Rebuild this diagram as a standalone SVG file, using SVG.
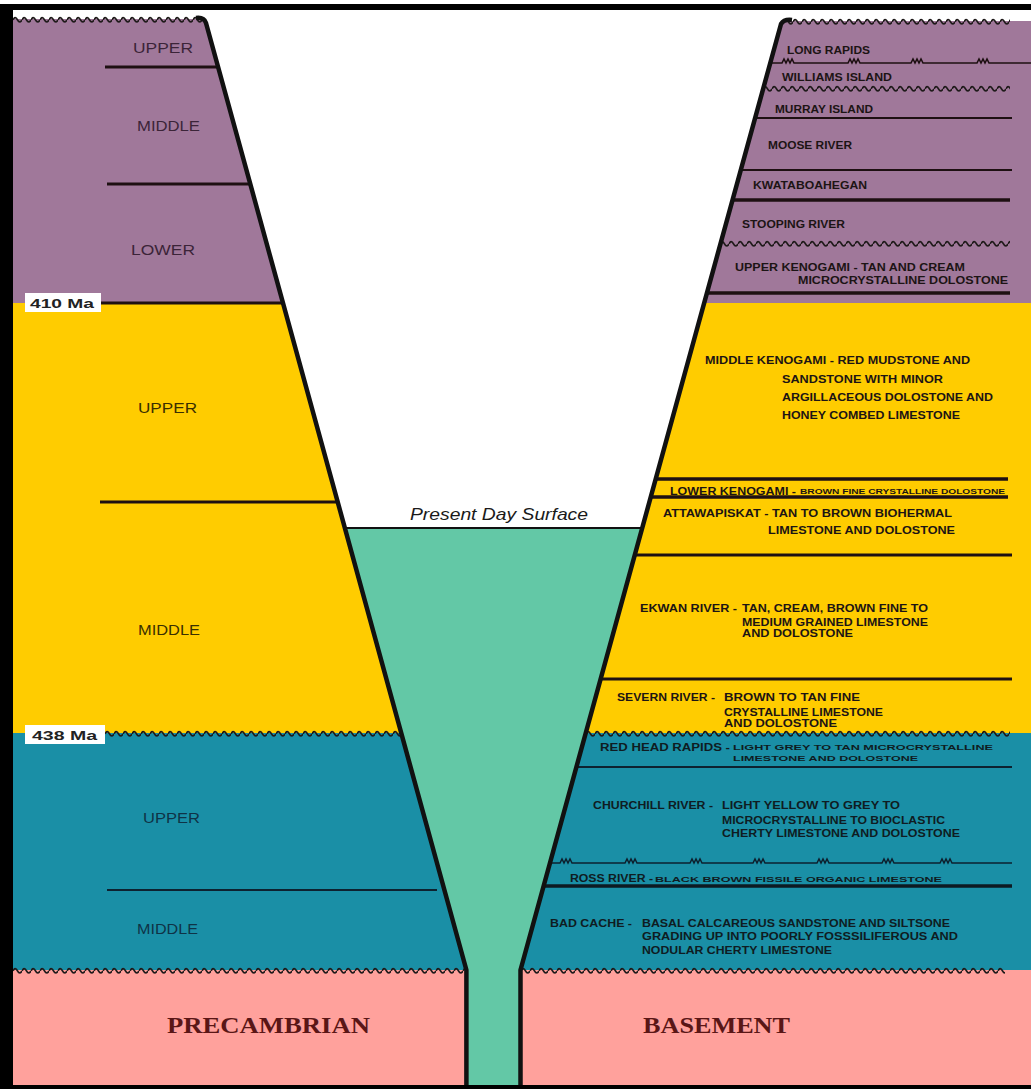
<svg xmlns="http://www.w3.org/2000/svg" width="1031" height="1089" viewBox="0 0 1031 1089">
<defs>
<style>
.lbl{font-family:"Liberation Sans",Arial,sans-serif;font-size:15px}
.fm{font-family:"Liberation Sans",Arial,sans-serif;font-size:10px;font-weight:bold;fill:#1c1414}
.sm{font-family:"Liberation Sans",Arial,sans-serif;font-size:8px;font-weight:bold;fill:#1c1414}
.ma{font-family:"Liberation Sans",Arial,sans-serif;font-size:13px;font-weight:bold;fill:#222}
.ser{font-family:"Liberation Serif","Times New Roman",serif;font-weight:bold;font-size:23px;fill:#5a1616}
.ln{stroke:#1e1012;fill:none}
.dg{stroke:#111;stroke-width:4.5;fill:none;stroke-linejoin:round}
</style>
<pattern id="wv" patternUnits="userSpaceOnUse" x="0" y="-4" width="9" height="8">
<path d="M0,4.8 Q2.25,0.6 4.5,4.8 T9,4.8" fill="none" stroke="#1f1a1a" stroke-width="1.8"/>
</pattern>
</defs>
<rect width="1031" height="1089" fill="#fff"/>

<g id="fills">
<path d="M13,19 L204.6,19 L282.9,303 L13,303 Z" fill="#A0789A"/>
<path d="M13,303 L282.9,303 L401.2,733 L13,733 Z" fill="#FFCC00"/>
<path d="M13,733 L401.2,733 L466.4,970 L13,970 Z" fill="#1A8FA6"/>
<path d="M13,970 L466.4,970 L466.4,1086 L13,1086 Z" fill="#FFA19C"/>
<path d="M782,21 L1031,21 L1031,303 L703.9,303 Z" fill="#A0789A"/>
<path d="M703.9,303 L1031,303 L1031,733 L585.7,733 Z" fill="#FFCC00"/>
<path d="M585.7,733 L1031,733 L1031,970 L520.5,970 Z" fill="#1A8FA6"/>
<path d="M520.5,970 L1031,970 L1031,1086 L520.5,1086 Z" fill="#FFA19C"/>
<path d="M344.8,528 L642,528 L520.5,970 L520.5,1086 L466.4,1086 L466.4,970 Z" fill="#63C8A6"/>
</g>

<g id="boundaries">
<rect transform="translate(13,19)" y="-4" width="190" height="8" fill="url(#wv)"/>
<rect transform="translate(784,21)" y="-4" width="226" height="8" fill="url(#wv)"/>
<rect transform="translate(105,733)" y="-4" width="296" height="8" fill="url(#wv)"/>
<rect transform="translate(586,733)" y="-4" width="424" height="8" fill="url(#wv)"/>
<rect transform="translate(13,970)" y="-4" width="453" height="8" fill="url(#wv)"/>
<rect transform="translate(521,970)" y="-4" width="484" height="8" fill="url(#wv)"/>
<rect transform="translate(763,88)" y="-4" width="247" height="8" fill="url(#wv)"/>
<rect transform="translate(720,243)" y="-4" width="290" height="8" fill="url(#wv)"/>

<line class="ln" x1="105" y1="67" x2="218" y2="67" stroke-width="3"/>
<line class="ln" x1="107" y1="184" x2="250" y2="184" stroke-width="3"/>
<line class="ln" x1="100" y1="303" x2="283" y2="303" stroke-width="3"/>
<line class="ln" x1="100" y1="502" x2="338" y2="502" stroke-width="3"/>
<line x1="107" y1="890" x2="437" y2="890" stroke="#0d2230" stroke-width="2"/>

<path class="ln" stroke-width="1.6" d="M770,63 H782 l2,-4 l2,4 l2,-4 l2,4 l2,-4 l2,4 H848 l2,-4 l2,4 l2,-4 l2,4 l2,-4 l2,4 H911 l2,-4 l2,4 l2,-4 l2,4 l2,-4 l2,4 H977 l2,-4 l2,4 l2,-4 l2,4 l2,-4 l2,4 H1031"/>
<line class="ln" x1="755" y1="118" x2="1012" y2="118" stroke-width="2.2"/>
<line class="ln" x1="740" y1="170" x2="1012" y2="170" stroke-width="1.8"/>
<line class="ln" x1="732" y1="200" x2="1010" y2="200" stroke-width="3.5"/>
<line class="ln" x1="707" y1="293" x2="1010" y2="293" stroke-width="3.5"/>
<line class="ln" x1="655" y1="479" x2="1008" y2="479" stroke-width="3.5"/>
<line class="ln" x1="650" y1="497" x2="1008" y2="497" stroke-width="3.5"/>
<line class="ln" x1="634" y1="555" x2="1012" y2="555" stroke-width="3"/>
<line class="ln" x1="600" y1="679" x2="1012" y2="679" stroke-width="3"/>
<line x1="576" y1="767" x2="1012" y2="767" stroke="#0d2230" stroke-width="2"/>
<path stroke="#0d2230" fill="none" stroke-width="1.5" d="M550,863 H560 l2,-4 l2,4 l2,-4 l2,4 l2,-4 l2,4 H625 l2,-4 l2,4 l2,-4 l2,4 l2,-4 l2,4 H690 l2,-4 l2,4 l2,-4 l2,4 l2,-4 l2,4 H753 l2,-4 l2,4 l2,-4 l2,4 l2,-4 l2,4 H817 l2,-4 l2,4 l2,-4 l2,4 l2,-4 l2,4 H882 l2,-4 l2,4 l2,-4 l2,4 l2,-4 l2,4 H940 l2,-4 l2,4 l2,-4 l2,4 l2,-4 l2,4 H1012"/>
<line x1="543" y1="886" x2="1012" y2="886" stroke="#0d1a22" stroke-width="3.5"/>
<line x1="344.8" y1="528" x2="642" y2="528" stroke="#111" stroke-width="2"/>
</g>

<g id="valley">
<path class="dg" d="M196,18 Q204,17 206,23 L466.4,970 L466.4,1086"/>
<path class="dg" d="M792,20 Q784,19 781,24 L520.5,970 L520.5,1086"/>
</g>

<g id="frame" fill="#000">
<rect x="0" y="4" width="1031" height="6"/>
<rect x="0" y="4" width="13" height="1085"/>
<rect x="0" y="1085" width="1031" height="4"/>
</g>

<g id="age-labels">
<rect x="25" y="293" width="76" height="19" fill="#fff"/>
<text class="ma" x="30" y="308" textLength="64" lengthAdjust="spacingAndGlyphs">410 Ma</text>
<rect x="25" y="725" width="80" height="19" fill="#fff"/>
<text class="ma" x="32" y="740" textLength="65" lengthAdjust="spacingAndGlyphs">438 Ma</text>
</g>

<g id="left-labels">
<text class="lbl" fill="#3b2438" x="133" y="53" textLength="60" lengthAdjust="spacingAndGlyphs">UPPER</text>
<text class="lbl" fill="#3b2438" x="137" y="131" textLength="63" lengthAdjust="spacingAndGlyphs">MIDDLE</text>
<text class="lbl" fill="#3b2438" x="131" y="255" textLength="64" lengthAdjust="spacingAndGlyphs">LOWER</text>
<text class="lbl" fill="#3a2f00" x="138" y="413" textLength="59" lengthAdjust="spacingAndGlyphs">UPPER</text>
<text class="lbl" fill="#3a2f00" x="138" y="635" textLength="62" lengthAdjust="spacingAndGlyphs">MIDDLE</text>
<text class="lbl" fill="#0f3346" x="143" y="823" textLength="57" lengthAdjust="spacingAndGlyphs">UPPER</text>
<text class="lbl" fill="#0f3346" x="137" y="934" textLength="61" lengthAdjust="spacingAndGlyphs">MIDDLE</text>
<text class="ser" x="167" y="1033" textLength="203" lengthAdjust="spacingAndGlyphs">PRECAMBRIAN</text>
<text class="ser" x="643" y="1033" textLength="147" lengthAdjust="spacingAndGlyphs">BASEMENT</text>
<text x="410" y="520" font-family="Liberation Sans, Arial, sans-serif" font-style="italic" font-size="17" fill="#1a1a1a" textLength="178" lengthAdjust="spacingAndGlyphs">Present Day Surface</text>
</g>

<g id="formations">
<text class="fm" x="787" y="54" textLength="83" lengthAdjust="spacingAndGlyphs">LONG RAPIDS</text>
<text class="fm" x="782" y="81" textLength="110" lengthAdjust="spacingAndGlyphs">WILLIAMS ISLAND</text>
<text class="fm" x="775" y="113" textLength="98" lengthAdjust="spacingAndGlyphs">MURRAY ISLAND</text>
<text class="fm" x="768" y="149" textLength="84" lengthAdjust="spacingAndGlyphs">MOOSE RIVER</text>
<text class="fm" x="753" y="189" textLength="114" lengthAdjust="spacingAndGlyphs">KWATABOAHEGAN</text>
<text class="fm" x="742" y="228" textLength="103" lengthAdjust="spacingAndGlyphs">STOOPING RIVER</text>
<text class="fm" x="735" y="271" textLength="230" lengthAdjust="spacingAndGlyphs">UPPER KENOGAMI -  TAN  AND CREAM</text>
<text class="fm" x="798" y="284" textLength="210" lengthAdjust="spacingAndGlyphs">MICROCRYSTALLINE  DOLOSTONE</text>

<text class="fm" x="705" y="364" textLength="265" lengthAdjust="spacingAndGlyphs">MIDDLE KENOGAMI - RED MUDSTONE AND</text>
<text class="fm" x="782" y="383" textLength="161" lengthAdjust="spacingAndGlyphs">SANDSTONE WITH MINOR</text>
<text class="fm" x="782" y="401" textLength="211" lengthAdjust="spacingAndGlyphs">ARGILLACEOUS DOLOSTONE AND</text>
<text class="fm" x="782" y="419" textLength="178" lengthAdjust="spacingAndGlyphs">HONEY COMBED LIMESTONE</text>
<text class="fm" x="670" y="495" textLength="126" lengthAdjust="spacingAndGlyphs">LOWER KENOGAMI -</text>
<text class="sm" x="800" y="494" font-size="7" textLength="205" lengthAdjust="spacingAndGlyphs">BROWN FINE CRYSTALLINE DOLOSTONE</text>
<text class="fm" x="663" y="517" textLength="289" lengthAdjust="spacingAndGlyphs">ATTAWAPISKAT - TAN TO BROWN BIOHERMAL</text>
<text class="fm" x="768" y="534" textLength="187" lengthAdjust="spacingAndGlyphs">LIMESTONE AND DOLOSTONE</text>

<text class="fm" x="640" y="612" textLength="97" lengthAdjust="spacingAndGlyphs">EKWAN RIVER -</text>
<text class="fm" x="742" y="612" textLength="186" lengthAdjust="spacingAndGlyphs">TAN, CREAM, BROWN FINE  TO</text>
<text class="fm" x="742" y="626" textLength="186" lengthAdjust="spacingAndGlyphs">MEDIUM GRAINED  LIMESTONE</text>
<text class="fm" x="742" y="637" textLength="111" lengthAdjust="spacingAndGlyphs">AND  DOLOSTONE</text>

<text class="fm" x="617" y="701" textLength="98" lengthAdjust="spacingAndGlyphs">SEVERN RIVER -</text>
<text class="fm" x="724" y="701" textLength="136" lengthAdjust="spacingAndGlyphs">BROWN  TO  TAN  FINE</text>
<text class="fm" x="724" y="716" textLength="159" lengthAdjust="spacingAndGlyphs">CRYSTALLINE  LIMESTONE</text>
<text class="fm" x="724" y="727" textLength="113" lengthAdjust="spacingAndGlyphs">AND  DOLOSTONE</text>

<g>
<text class="fm" style="fill:#0f1c22" x="600" y="751" textLength="130" lengthAdjust="spacingAndGlyphs">RED HEAD RAPIDS -</text>
<text class="sm" style="fill:#0f1c22" x="733" y="750" font-size="9" textLength="260" lengthAdjust="spacingAndGlyphs">LIGHT  GREY  TO  TAN  MICROCRYSTALLINE</text>
<text class="sm" style="fill:#0f1c22" x="733" y="761" font-size="9" textLength="185" lengthAdjust="spacingAndGlyphs">LIMESTONE  AND  DOLOSTONE</text>

<text class="fm" style="fill:#0f1c22" x="593" y="809" textLength="120" lengthAdjust="spacingAndGlyphs">CHURCHILL RIVER -</text>
<text class="fm" style="fill:#0f1c22" x="722" y="809" textLength="178" lengthAdjust="spacingAndGlyphs">LIGHT  YELLOW TO  GREY  TO</text>
<text class="fm" style="fill:#0f1c22" x="722" y="824" textLength="223" lengthAdjust="spacingAndGlyphs">MICROCRYSTALLINE  TO BIOCLASTIC</text>
<text class="fm" style="fill:#0f1c22" x="722" y="837" textLength="238" lengthAdjust="spacingAndGlyphs">CHERTY  LIMESTONE AND  DOLOSTONE</text>

<text class="fm" style="fill:#0f1c22" x="570" y="882" textLength="83" lengthAdjust="spacingAndGlyphs">ROSS RIVER -</text>
<text class="sm" style="fill:#0f1c22" x="655" y="882" textLength="287" lengthAdjust="spacingAndGlyphs">BLACK BROWN FISSILE  ORGANIC  LIMESTONE</text>

<text class="fm" style="fill:#0f1c22" x="550" y="927" textLength="82" lengthAdjust="spacingAndGlyphs">BAD CACHE -</text>
<text class="fm" style="fill:#0f1c22" x="642" y="927" textLength="308" lengthAdjust="spacingAndGlyphs">BASAL  CALCAREOUS SANDSTONE  AND  SILTSONE</text>
<text class="fm" style="fill:#0f1c22" x="642" y="940" textLength="316" lengthAdjust="spacingAndGlyphs">GRADING  UP  INTO  POORLY  FOSSSILIFEROUS  AND</text>
<text class="fm" style="fill:#0f1c22" x="642" y="954" textLength="190" lengthAdjust="spacingAndGlyphs">NODULAR  CHERTY  LIMESTONE</text>
</g>
</g>
</svg>
